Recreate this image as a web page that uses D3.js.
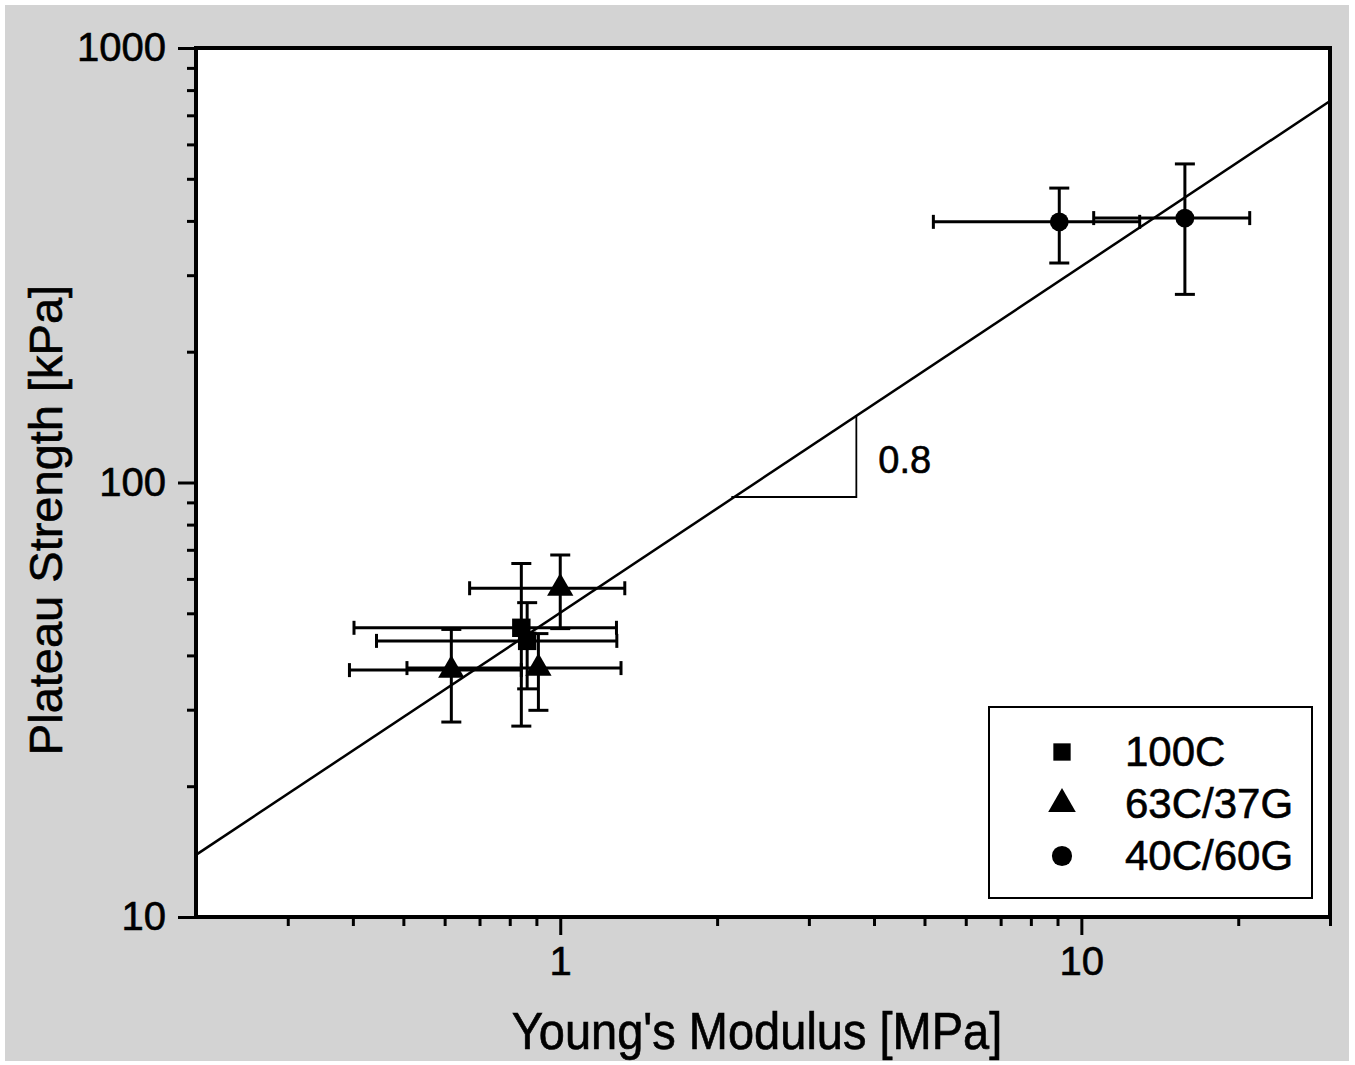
<!DOCTYPE html>
<html>
<head>
<meta charset="utf-8">
<script src="https://cdn.jsdelivr.net/npm/d3@7"></script>
<style>
  body { margin: 0; background: #fff; }
  text { font-family: "Liberation Sans", Arial, sans-serif; fill: #000; stroke: #000; stroke-width: 0.6px; }
  .axis text { font-size: 40px; }
  .axis line { stroke: #000; stroke-width: 3; }
  .axis path { display: none; }
</style>
</head>
<body>
<div id="chart"></div>
<script>
// series values (x = modulus MPa, y = strength kPa, ex/ey = error half widths)
var series100C = [
  {x: 0.842, y: 46.3, ex: 0.44, ey: 18.8},
  {x: 0.864, y: 43.2, ex: 0.42, ey: 9.7}
];
var series63C37G = [
  {x: 1.0,   y: 57.1, ex: 0.33,  ey: 11},
  {x: 0.618, y: 37.0, ex: 0.224, ey: 8.9},
  {x: 0.908, y: 37.4, ex: 0.40,  ey: 7.5}
];
var series40C60G = [
  {x: 9.07, y: 398, ex: 3.87, ey: 78},
  {x: 15.8, y: 406, ex: 5.24, ey: 135}
];
var seriesNames = ["100C", "63C/37G", "40C/60G"];
var seriesSymbols = [d3.symbolSquare, d3.symbolTriangle, d3.symbolCircle];

// power law fit line (end points) and the slope triangle
var fitLine = [{x: 0.2, y: 13.9}, {x: 30, y: 755}];
var slopeTriangle = [{x: 2.13, y: 92.6}, {x: 3.70, y: 92.6}, {x: 3.70, y: 143}];
var slopeLabel = "0.8";

var xMajorTicks = [1, 10];
var xMinorTicks = [0.3, 0.4, 0.5, 0.6, 0.7, 0.8, 0.9, 2, 3, 4, 5, 6, 7, 8, 9, 20, 30];
var yMajorTicks = [10, 100, 1000];
var yMinorTicks = [20, 30, 40, 50, 60, 70, 80, 90, 200, 300, 400, 500, 600, 700, 800, 900];

var W = 1355, H = 1065;
var margin = {top: 48, right: 25, bottom: 148, left: 196},
    width = W - margin.left - margin.right,
    height = H - margin.top - margin.bottom;

var svg = d3.select("#chart").append("svg")
    .attr("width", W)
    .attr("height", H);

// grey page behind the plot
svg.append("rect")
    .attr("x", 5).attr("y", 5)
    .attr("width", 1344).attr("height", 1056)
    .attr("fill", "#d3d3d3");

var x = d3.scaleLog().domain([0.2, 30]).range([0, width]),
    y = d3.scaleLog().domain([10, 1000]).range([height, 0]);

var g = svg.append("g")
    .attr("transform", "translate(" + margin.left + "," + margin.top + ")");

g.append("rect")
    .attr("width", width).attr("height", height)
    .attr("fill", "#fff");

g.append("defs").append("clipPath")
    .attr("id", "clip")
  .append("rect")
    .attr("width", width)
    .attr("height", height);

// axes: majors with labels, minors short and unlabelled
g.append("g")
    .attr("class", "axis")
    .attr("transform", "translate(0," + height + ")")
    .call(d3.axisBottom(x).tickValues(xMajorTicks).tickSize(18).tickPadding(12).tickFormat(d3.format("d")));
g.append("g")
    .attr("class", "axis")
    .attr("transform", "translate(0," + height + ")")
    .call(d3.axisBottom(x).tickValues(xMinorTicks).tickSize(9).tickFormat(""));
g.append("g")
    .attr("class", "axis")
    .call(d3.axisLeft(y).tickValues(yMajorTicks).tickSize(18).tickPadding(12).tickFormat(d3.format("d")));
g.append("g")
    .attr("class", "axis")
    .call(d3.axisLeft(y).tickValues(yMinorTicks).tickSize(9).tickFormat(""));

var plot = g.append("g").attr("clip-path", "url(#clip)");

var line = d3.line()
    .x(function(d) { return x(d.x); })
    .y(function(d) { return y(d.y); });

plot.append("path")
    .datum(fitLine)
    .attr("d", line)
    .attr("fill", "none")
    .attr("stroke", "#000")
    .attr("stroke-width", 2.5);

plot.append("path")
    .datum(slopeTriangle)
    .attr("d", line)
    .attr("fill", "none")
    .attr("stroke", "#000")
    .attr("stroke-width", 1.8);

g.append("text")
    .attr("x", x(slopeTriangle[2].x) + 22)
    .attr("y", y(slopeTriangle[0].y) - 24)
    .style("font-size", "38px")
    .text(slopeLabel);

// error bars then symbols
var allSeries = [series100C, series63C37G, series40C60G];
var markerSize = [340, 300, 280];
var capX = 7, capY = 10;

allSeries.forEach(function(s, i) {
    var sg = plot.append("g").attr("class", "series" + i);
    s.forEach(function(d) {
        var cx = x(d.x), cy = y(d.y),
            x0 = x(d.x - d.ex), x1 = x(d.x + d.ex),
            y0 = y(d.y - d.ey), y1 = y(d.y + d.ey);
        var eb = sg.append("g")
            .attr("stroke", "#000")
            .attr("stroke-width", 3);
        eb.append("line").attr("x1", x0).attr("x2", x1).attr("y1", cy).attr("y2", cy);
        eb.append("line").attr("x1", x0).attr("x2", x0).attr("y1", cy - capX).attr("y2", cy + capX);
        eb.append("line").attr("x1", x1).attr("x2", x1).attr("y1", cy - capX).attr("y2", cy + capX);
        eb.append("line").attr("x1", cx).attr("x2", cx).attr("y1", y0).attr("y2", y1);
        eb.append("line").attr("x1", cx - capY).attr("x2", cx + capY).attr("y1", y0).attr("y2", y0);
        eb.append("line").attr("x1", cx - capY).attr("x2", cx + capY).attr("y1", y1).attr("y2", y1);
    });
    sg.selectAll(".point")
        .data(s)
        .enter().append("path")
        .attr("class", "point")
        .attr("d", d3.symbol().type(seriesSymbols[i]).size(markerSize[i]))
        .attr("transform", function(d) { return "translate(" + x(d.x) + "," + y(d.y) + ")"; })
        .attr("fill", "#000");
});

// frame
g.append("rect")
    .attr("width", width).attr("height", height)
    .attr("fill", "none")
    .attr("stroke", "#000")
    .attr("stroke-width", 4);

// legend
var legend = g.append("g")
    .attr("transform", "translate(" + (989 - margin.left) + "," + (707 - margin.top) + ")");
legend.append("rect")
    .attr("width", 323).attr("height", 191)
    .attr("fill", "#fff")
    .attr("stroke", "#000")
    .attr("stroke-width", 2);
var legendSize = [300, 330, 320];
seriesNames.forEach(function(name, i) {
    var ly = 45 + i * 52;
    legend.append("path")
        .attr("d", d3.symbol().type(seriesSymbols[i]).size(legendSize[i]))
        .attr("transform", "translate(73," + ly + ")")
        .attr("fill", "#000");
    legend.append("text")
        .attr("x", 136)
        .attr("y", ly + 14)
        .style("font-size", "42px")
        .text(name);
});

// axis titles (scan is a little taller than wide)
svg.append("text")
    .attr("transform", "translate(757,1049) scale(1,1.1)")
    .attr("text-anchor", "middle")
    .style("font-size", "47px")
    .text("Young's Modulus [MPa]");
svg.append("text")
    .attr("transform", "translate(62,520) rotate(-90)")
    .attr("text-anchor", "middle")
    .style("font-size", "47px")
    .text("Plateau Strength [kPa]");
</script>
</body>
</html>
